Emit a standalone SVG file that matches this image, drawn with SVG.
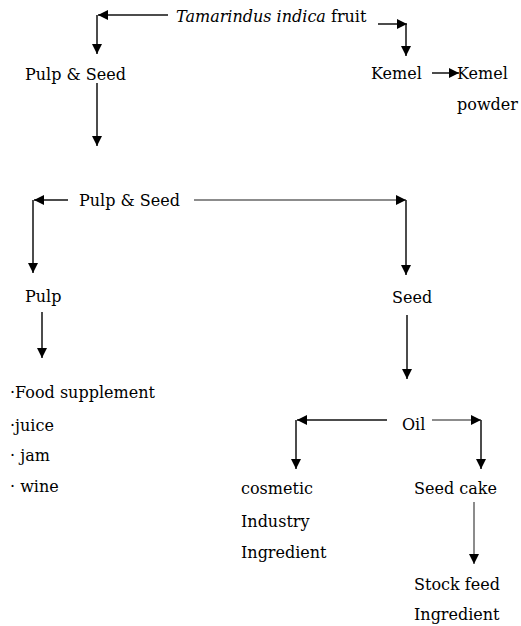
<svg xmlns="http://www.w3.org/2000/svg" width="521" height="626" viewBox="0 0 521 626">
<defs>
<marker id="ah" markerUnits="userSpaceOnUse" markerWidth="12" markerHeight="10" refX="10" refY="5" orient="auto">
<path d="M0,0 L10,5 L0,10 Z" fill="#000"/>
</marker>
<style>
text{font-family:"DejaVu Serif","Liberation Serif",serif;font-size:16px;fill:#000}
.it{font-style:italic}
.c path{fill:none;stroke:#111;stroke-width:1.5}
.g{stroke:#666 !important}
</style>
</defs>
<rect width="521" height="626" fill="#fff"/>
<g id="fruit"><text x="176" y="22"><tspan class="it">Tamarindus indica</tspan> fruit</text></g>
<g id="pulpseed1"><text x="25" y="80">Pulp &amp; Seed</text></g>
<g id="kernel"><text x="371" y="79">Kemel</text></g>
<g id="kernelpowder"><text x="457" y="79">Kemel</text><text x="457" y="110">powder</text></g>
<g id="pulpseed2"><text x="79" y="206">Pulp &amp; Seed</text></g>
<g id="pulp"><text x="25" y="302">Pulp</text></g>
<g id="seed"><text x="392" y="303">Seed</text></g>
<g id="pulpuses"><text x="10" y="398">·Food supplement</text><text x="10" y="431">·juice</text><text x="10" y="461">· jam</text><text x="10" y="492">· wine</text></g>
<g id="oil"><text x="402" y="430">Oil</text></g>
<g id="cosmetic"><text x="241" y="494">cosmetic</text><text x="241" y="527">Industry</text><text x="241" y="558">Ingredient</text></g>
<g id="seedcake"><text x="414" y="494">Seed cake</text></g>
<g id="stockfeed"><text x="414" y="590">Stock feed</text><text x="414" y="620">Ingredient</text></g>
<g id="connectors" class="c">
<path d="M168,15 H98" marker-end="url(#ah)"/>
<path d="M97,15 V54" marker-end="url(#ah)"/>
<path d="M378,24 H407" marker-end="url(#ah)"/>
<path d="M406,24 V56" marker-end="url(#ah)"/>
<path d="M432,73 H459" marker-end="url(#ah)"/>
<path d="M97,83 V146" marker-end="url(#ah)"/>
<path d="M68,200 H34" marker-end="url(#ah)"/>
<path d="M33,200 V273" marker-end="url(#ah)"/>
<path class="g" d="M194,200 H406" marker-end="url(#ah)"/>
<path d="M406,200 V275" marker-end="url(#ah)"/>
<path d="M42,312 V358" marker-end="url(#ah)"/>
<path d="M407,315 V379" marker-end="url(#ah)"/>
<path d="M387,420 H297" marker-end="url(#ah)"/>
<path d="M296,420 V469" marker-end="url(#ah)"/>
<path class="g" d="M432,420 H481" marker-end="url(#ah)"/>
<path d="M481,420 V469" marker-end="url(#ah)"/>
<path class="g" d="M474,502 V564" marker-end="url(#ah)"/>
</g>
</svg>
